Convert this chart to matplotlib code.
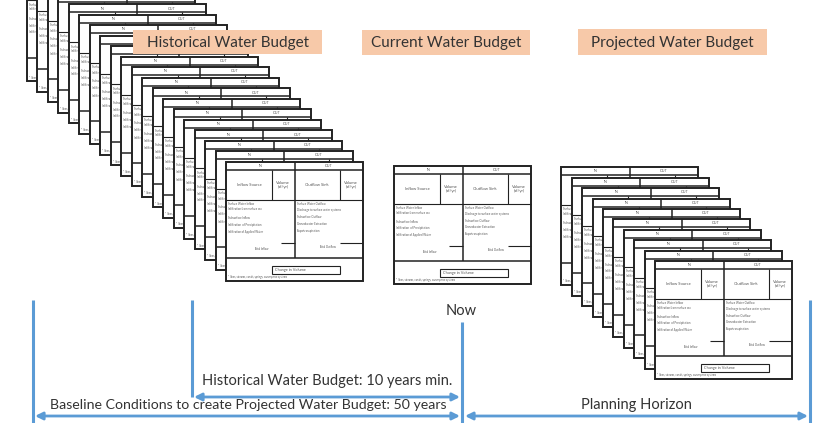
import matplotlib
matplotlib.use("Agg")
import matplotlib.pyplot as plt
from matplotlib.patches import Rectangle

plt.rcParams['font.family'] = ['Lato', 'DejaVu Sans']

# text content
titles = ["Historical Water Budget", "Current Water Budget", "Projected Water Budget"]
header_in = "IN"
header_out = "OUT"
col_heads = ["Inflow Source", "Volume\n(af/yr)", "Outflow Sink", "Volume\n(af/yr)"]
inflow_items = ["Surface Water Inflow", "Infiltration from surface wa",
                "Subsurface Inflow", "Infiltration  of Precipitation",
                "Infiltration of Applied Water"]
outflow_items = ["Surface Water Outflow", "Discharge to surface water systems",
                 "Subsurface Outflow", "Groundwater Extraction", "Evapotranspiration"]
total_labels = ["Total Inflow", "Total Outflow"]
change_label = "Change in Volume"
footnote = "* lakes, streams, canals, springs, conveyance systems"
now_label = "Now"
span_labels = ["Historical Water Budget: 10 years min.",
               "Baseline Conditions to create Projected Water Budget: 50 years",
               "Planning Horizon"]
n_hist_cards = 20
n_proj_cards = 10

BLUE = '#5B9BD5'
SALMON = '#F7C9A9'
INK = '#222222'
GREY = '#555555'

fig = plt.figure(figsize=(8.13, 4.23), dpi=100)
ax = fig.add_axes([0, 0, 1, 1])
ax.set_xlim(0, 813)
ax.set_ylim(423, 0)
ax.axis('off')


def draw_card(x0, y0, z, w=137, h=119):
    s = h / 119.0
    ax.add_patch(Rectangle((x0, y0), w, h, fc='white', ec=INK, lw=1.4, zorder=z))

    def ln(xa, ya, xb, yb, lw=0.8):
        ax.plot([x0 + xa * w, x0 + xb * w], [y0 + ya * s, y0 + yb * s],
                color=INK, lw=lw, zorder=z + 1, solid_capstyle='butt')

    def tx(xf, yy, t, size, ha='center'):
        yp = y0 + yy * s
        if yp < 3 or yp > 420:
            return
        ax.text(x0 + xf * w, yp, t, fontsize=size, color=GREY,
                ha=ha, va='center', zorder=z + 2, clip_on=True, linespacing=1.1)

    ln(0, 8, 1, 8, 1.1)
    ln(0.5, 0, 0.5, 96, 1.1)
    ln(0.336, 8, 0.336, 38)
    ln(0.83, 8, 0.83, 38)
    ln(0, 38, 1, 38)
    ln(0, 96, 1, 96, 1.1)
    ln(0.40, 81, 0.5, 81)
    ln(0.83, 81, 1, 81)
    ax.add_patch(Rectangle((x0 + 0.336 * w, y0 + 104 * s), 0.494 * w, 8 * s,
                           fc='white', ec=INK, lw=0.8, zorder=z + 1))
    tx(0.25, 4, header_in, 2.6)
    tx(0.75, 4, header_out, 2.6)
    tx(0.17, 23, col_heads[0], 3.0)
    tx(0.418, 23, col_heads[1], 3.0)
    tx(0.665, 23, col_heads[2], 3.0)
    tx(0.915, 23, col_heads[3], 3.0)
    for yy, t in zip([42, 47, 56, 63, 70], inflow_items):
        tx(0.015, yy, t, 2.0, ha='left')
    for yy, t in zip([42, 48, 55, 62, 69], outflow_items):
        tx(0.515, yy, t, 2.0, ha='left')
    tx(0.26, 87, total_labels[0], 2.0)
    tx(0.74, 85, total_labels[1], 2.0)
    tx(0.36, 108, change_label, 2.8, ha='left')
    tx(0.015, 115, footnote, 1.9, ha='left')


# historical stack (back to front)
z = 10
step = 10.5
for i in range(n_hist_cards):
    k = n_hist_cards - 1 - i
    draw_card(226 - k * step, 162 - k * step, z)
    z += 3

# current
draw_card(394, 166, z, h=118)
z += 3

# projected stack
step_p = 10.4
for i in range(n_proj_cards):
    k = n_proj_cards - 1 - i
    draw_card(655 - k * step_p, 261 - k * step_p, z, h=118)
    z += 3

# title boxes
boxes = [(133, 30, 189, 24), (362, 30, 168, 25), (578, 29, 189, 26)]
for (bx, by, bw, bh), t in zip(boxes, titles):
    ax.add_patch(Rectangle((bx, by), bw, bh, fc=SALMON, ec='none', zorder=900))
    ax.text(bx + bw / 2, by + bh / 2 + 1, t, fontsize=11, color='#333333',
            ha='center', va='center', zorder=901)

# timeline
for xv, ya in [(33, 300), (192, 300), (462, 322), (810, 300)]:
    yb = 397 if xv == 192 else 423
    ax.plot([xv, xv], [ya, yb], color=BLUE, lw=2.2, zorder=5, solid_capstyle='butt')

arrow = dict(arrowstyle='<|-|>', color=BLUE, lw=2.0, mutation_scale=11,
             shrinkA=0, shrinkB=0)
ax.annotate('', xy=(460, 397), xytext=(194, 397), arrowprops=arrow, zorder=6)
ax.annotate('', xy=(460, 416), xytext=(35, 416), arrowprops=arrow, zorder=6)
ax.annotate('', xy=(808, 416), xytext=(465, 416), arrowprops=arrow, zorder=6)

ax.text(461, 311, now_label, fontsize=10.5, color='#333333', ha='center', va='center')
ax.text(327, 381, span_labels[0], fontsize=10.5, color='#333333', ha='center', va='center')
ax.text(248, 405, span_labels[1], fontsize=10.2, color='#333333', ha='center', va='center')
ax.text(636, 405, span_labels[2], fontsize=10.5, color='#333333', ha='center', va='center')

fig.savefig('out.png', dpi=100)
